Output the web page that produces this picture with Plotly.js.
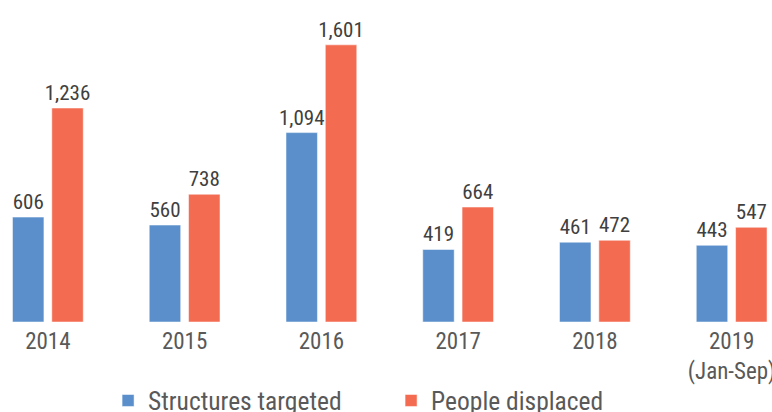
<!DOCTYPE html>
<html>
<head>
<meta charset="utf-8">
<script src="https://cdn.plot.ly/plotly-3.0.1.min.js"></script>
<style>html,body{margin:0;padding:0;background:#fff;}#chart{width:772px;height:412px;}</style>
</head>
<body>
<div id="chart"></div>
<script>
var years = ["2014", "2015", "2016", "2017", "2018", "2019<br>(Jan-Sep)"];
var structuresTargeted = [606, 560, 1094, 419, 461, 443];
var peopleDisplaced = [1236, 738, 1601, 664, 472, 547];
var seriesNames = ["Structures targeted", "People displaced"];

var FONT = "Roboto Condensed, Liberation Sans Narrow, DejaVu Sans Condensed, Roboto, sans-serif";
var fmt = function (v) { return v.toLocaleString("en-US"); };

function barTrace(name, vals, color) {
  return {
    type: "bar", name: name, x: years, y: vals,
    text: vals.map(fmt), textposition: "outside", cliponaxis: false,
    constraintext: "none",
    textfont: {family: FONT, size: 21, color: "#404040"},
    marker: {color: color, line: {color: "rgba(255,255,255,0.5)", width: 1}},
    hoverinfo: "none"
  };
}

var traces = [
  barTrace(seriesNames[0], structuresTargeted, "#5A8FCB"),
  barTrace(seriesNames[1], peopleDisplaced, "#F36B51")
];

var layout = {
  width: 772, height: 412,
  margin: {l: 0, r: 0, t: 0, b: 90, autoexpand: false},
  paper_bgcolor: "#fff", plot_bgcolor: "#fff",
  barmode: "group", bargap: 0.425, bargroupgap: 0.2,
  showlegend: true,
  legend: {
    orientation: "h", x: 0.14, xanchor: "left", y: -0.172, yanchor: "top",
    font: {family: FONT, size: 25.5, color: "#595959"},
    entrywidth: 238
  },
  font: {family: FONT},
  xaxis: {
    type: "category", range: [-0.35, 5.295], showline: false, showgrid: false, zeroline: false,
    automargin: false, ticklabelstandoff: 3,
    ticks: "", tickfont: {family: FONT, size: 23, color: "#595959"}, fixedrange: true
  },
  yaxis: {
    range: [0, 1860], visible: false, showgrid: false, zeroline: false, fixedrange: true,
    automargin: false
  }
};

Plotly.newPlot("chart", traces, layout, {displayModeBar: false, staticPlot: true});
</script>
</body>
</html>
